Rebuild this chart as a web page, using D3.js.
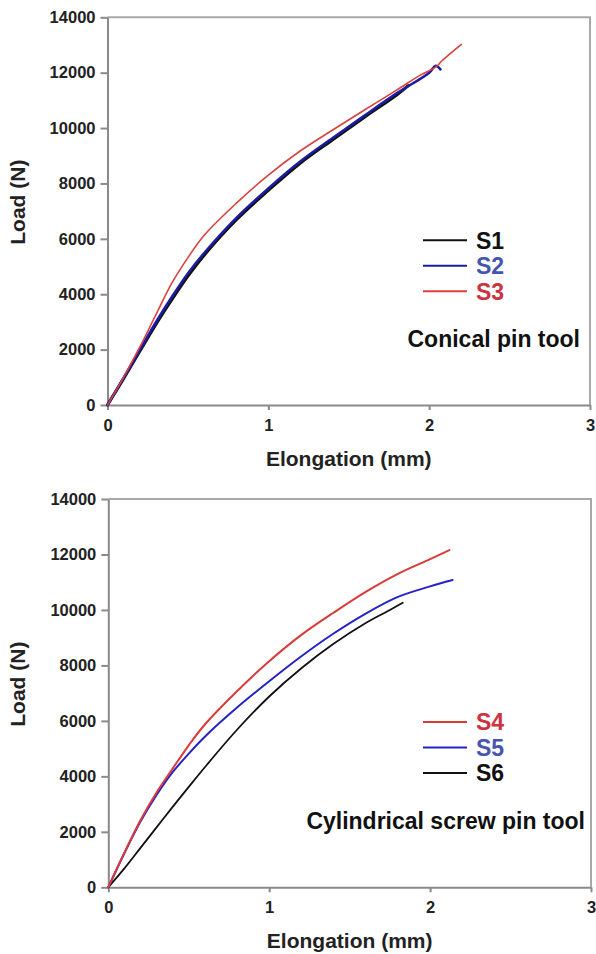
<!DOCTYPE html>
<html>
<head>
<meta charset="utf-8">
<script src="https://cdn.jsdelivr.net/npm/d3@7"></script>
<style>
  body { margin: 0; background: #fff; }
  svg { display: block; font-family: "Liberation Sans", Arial, sans-serif; }
  .axis path, .axis line { stroke: #8a8a8a; stroke-width: 2; }
  .axis text { fill: #222; font-size: 16.5px; font-weight: bold; }
</style>
</head>
<body>
<svg id="chart" width="596" height="954"></svg>
<script>
"use strict";

// Conical pin tool (mm, N)
const s1X = [0, 0.1, 0.2, 0.3, 0.4, 0.5, 0.6, 0.8, 1.0, 1.2, 1.4, 1.6, 1.8, 1.87];
const s1Y = [0, 950, 1930, 2900, 3800, 4650, 5400, 6680, 7750, 8740, 9580, 10400, 11200, 11530];
const s2X = [0, 0.1, 0.2, 0.3, 0.4, 0.5, 0.6, 0.8, 1.0, 1.2, 1.4, 1.6, 1.8, 2.0, 2.04, 2.07];
const s2Y = [0, 980, 1980, 2980, 3900, 4750, 5480, 6750, 7820, 8800, 9640, 10460, 11260, 12000, 12250, 12120];
const s3X = [0, 0.1, 0.2, 0.3, 0.4, 0.5, 0.6, 0.8, 1.0, 1.2, 1.4, 1.6, 1.8, 1.95, 2.04, 2.08, 2.2];
const s3Y = [0, 1000, 2080, 3250, 4400, 5320, 6120, 7280, 8300, 9180, 9930, 10660, 11380, 11930, 12200, 12430, 13020];

// Cylindrical screw pin tool (mm, N)
const s4X = [0, 0.1, 0.2, 0.3, 0.4, 0.5, 0.6, 0.8, 1.0, 1.2, 1.4, 1.6, 1.8, 2.0, 2.12];
const s4Y = [0, 1250, 2420, 3420, 4280, 5120, 5870, 7070, 8150, 9100, 9900, 10650, 11300, 11830, 12160];
const s5X = [0, 0.1, 0.2, 0.3, 0.4, 0.5, 0.6, 0.8, 1.0, 1.2, 1.4, 1.6, 1.8, 2.0, 2.14];
const s5Y = [0, 1230, 2370, 3330, 4150, 4820, 5430, 6480, 7430, 8330, 9150, 9870, 10470, 10850, 11080];
const s6X = [0, 0.1, 0.2, 0.3, 0.4, 0.5, 0.6, 0.8, 1.0, 1.2, 1.4, 1.6, 1.75, 1.83];
const s6Y = [0, 680, 1420, 2160, 2900, 3620, 4330, 5680, 6880, 7900, 8780, 9530, 10000, 10260];

const xTicks = [0, 1, 2, 3];
const yTicks = [0, 2000, 4000, 6000, 8000, 10000, 12000, 14000];

const svg = d3.select("#chart");

function zip(xs, ys) {
    return xs.map((x, i) => [x, ys[i]]);
}

function drawPanel(p) {
    const x = d3.scaleLinear().domain([0, 3]).range([p.left, p.right]);
    const y = d3.scaleLinear().domain([0, 14000]).range([p.bottom, p.top]);
    const g = svg.append("g");

    // frame top + right
    g.append("path")
        .attr("d", "M" + p.left + "," + p.top + "H" + p.right + "V" + p.bottom)
        .attr("fill", "none")
        .attr("stroke", "#a8a8a8")
        .attr("stroke-width", 2);

    g.append("g").attr("class", "axis")
        .attr("transform", "translate(0," + p.bottom + ")")
        .call(d3.axisBottom(x).tickValues(xTicks).tickFormat(d3.format("d"))
            .tickSize(5).tickSizeOuter(0).tickPadding(9));

    g.append("g").attr("class", "axis")
        .attr("transform", "translate(" + p.left + ",0)")
        .call(d3.axisLeft(y).tickValues(yTicks).tickFormat(d3.format("d"))
            .tickSize(7).tickSizeOuter(0).tickPadding(5));

    g.append("text")
        .attr("x", (p.left + p.right) / 2)
        .attr("y", p.bottom + 61)
        .attr("text-anchor", "middle")
        .style("font-size", "21px").style("font-weight", "bold").style("fill", "#222")
        .text("Elongation (mm)");

    g.append("text")
        .attr("transform", "translate(25," + ((p.top + p.bottom) / 2 - 9) + ") rotate(-90)")
        .attr("text-anchor", "middle")
        .style("font-size", "21px").style("font-weight", "bold").style("fill", "#222")
        .text("Load (N)");

    const line = d3.line()
        .x(d => x(d[0]))
        .y(d => y(d[1]))
        .curve(d3.curveCatmullRom.alpha(0.5));

    // draw in given order (last on top)
    p.series.forEach(s => {
        g.append("path")
            .datum(zip(s.xs, s.ys))
            .attr("d", line)
            .attr("fill", "none")
            .attr("stroke", s.color)
            .attr("stroke-width", s.width)
            .attr("stroke-linejoin", "round")
            .attr("stroke-linecap", "round");
    });

    // legend
    const leg = g.selectAll(".leg").data(p.legend).enter().append("g")
        .attr("transform", (d, i) => "translate(0," + (p.top + 223 + i * 25.5) + ")");
    leg.append("line")
        .attr("x1", 423).attr("x2", 467)
        .attr("stroke", d => d.color)
        .attr("stroke-width", 2);
    leg.append("text")
        .attr("x", 476)
        .attr("dy", "0.36em")
        .style("font-size", "23px").style("font-weight", "bold")
        .style("fill", d => d.textColor)
        .text(d => d.name);

    g.append("text")
        .attr("x", p.labelRight)
        .attr("y", p.top + 330)
        .attr("text-anchor", "end")
        .style("font-size", "23px").style("font-weight", "bold").style("fill", "#111")
        .text(p.label);
}

const S1 = { name: "S1", xs: s1X, ys: s1Y, color: "#111", width: 3, textColor: "#111" };
const S2 = { name: "S2", xs: s2X, ys: s2Y, color: "#1c1ca0", width: 2.6, textColor: "#4655b0" };
const S3 = { name: "S3", xs: s3X, ys: s3Y, color: "#d9403f", width: 1.6, textColor: "#cc3341" };
const S4 = { name: "S4", xs: s4X, ys: s4Y, color: "#d93a3a", width: 2, textColor: "#cc3341" };
const S5 = { name: "S5", xs: s5X, ys: s5Y, color: "#2323c8", width: 2, textColor: "#4655b0" };
const S6 = { name: "S6", xs: s6X, ys: s6Y, color: "#111", width: 1.8, textColor: "#111" };

drawPanel({
    left: 107.5, right: 590, top: 17.3, bottom: 405,
    series: [S1, S2, S3],
    legend: [S1, S2, S3],
    label: "Conical pin tool", labelRight: 580
});

drawPanel({
    left: 108.3, right: 591, top: 499, bottom: 887.3,
    series: [S6, S5, S4],
    legend: [S4, S5, S6],
    label: "Cylindrical screw pin tool", labelRight: 585
});
</script>
</body>
</html>
